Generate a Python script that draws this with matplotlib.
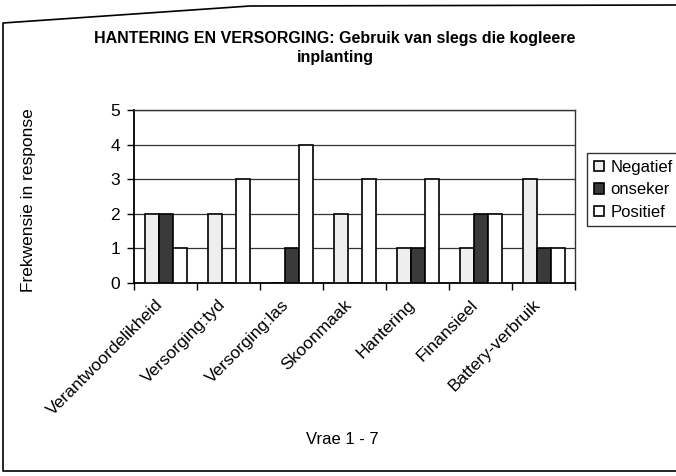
import matplotlib
matplotlib.use("Agg")
import matplotlib.pyplot as plt
import numpy as np
from matplotlib.lines import Line2D

plt.rcParams['font.family'] = ['Liberation Sans', 'DejaVu Sans']

categories = ["Verantwoordelikheid", "Versorging:tyd", "Versorging:las", "Skoonmaak",
              "Hantering", "Finansieel", "Battery-verbruik"]
negatief = [2, 2, 0, 2, 1, 1, 3]
onseker = [2, 0, 1, 0, 1, 2, 1]
positief = [1, 3, 4, 3, 3, 2, 1]
series_names = ["Negatief", "onseker", "Positief"]
yticks = [0, 1, 2, 3, 4, 5]

W, H = 676, 476
fig = plt.figure(figsize=(W / 100, H / 100), dpi=100)
fig.patch.set_facecolor('white')

ax = fig.add_axes([134 / W, 1 - 283 / H, (575 - 134) / W, (283 - 110) / H])

x = np.arange(len(categories))
bw = 1 / 4.5
colors = ['#eeeeee', '#3a3a3a', 'white']
for i, (vals, c, name) in enumerate(zip([negatief, onseker, positief], colors, series_names)):
    ax.bar(x + (i - 1) * bw, vals, width=bw, color=c, edgecolor='black',
           linewidth=1.2, label=name, zorder=3)

ax.set_xlim(-0.5, len(categories) - 0.5)
ax.set_ylim(0, 5)
ax.set_yticks(yticks)
ax.set_yticklabels([str(v) for v in yticks], fontsize=12.5)
ax.yaxis.grid(True, color='#333333', linewidth=0.9, zorder=0)
ax.set_axisbelow(True)

ax.set_xticks(x)
ax.set_xticklabels(categories, fontsize=12.5, rotation=45, ha='right', va='top',
                   rotation_mode='default')
ax.tick_params(axis='x', which='major', length=0, pad=10)
ax.set_xticks(np.arange(len(categories) + 1) - 0.5, minor=True)
ax.tick_params(axis='x', which='minor', length=5, width=1, direction='out')
ax.tick_params(axis='y', length=5, width=1, direction='out', pad=5)

for s in ['left', 'bottom']:
    ax.spines[s].set_linewidth(1.3)
    ax.spines[s].set_color('black')
for s in ['top', 'right']:
    ax.spines[s].set_linewidth(1.0)
    ax.spines[s].set_color('#333333')

leg = ax.legend(loc='upper left', bbox_to_anchor=(587 / W, 1 - 153 / H),
                bbox_transform=fig.transFigure, fontsize=12, frameon=True,
                fancybox=False, edgecolor='black', handlelength=0.6, handleheight=0.6,
                handletextpad=0.4, labelspacing=0.45, borderpad=0.4, borderaxespad=0)
leg.get_frame().set_linewidth(1.0)

fig.text(335 / W, 1 - 48 / H,
         "HANTERING EN VERSORGING: Gebruik van slegs die kogleere\ninplanting",
         ha='center', va='center', fontsize=11.5, fontweight='bold', linespacing=1.35)
fig.text(28 / W, 1 - 200 / H, "Frekwensie in response", rotation=90,
         ha='center', va='center', fontsize=12.5)
fig.text(342 / W, 1 - 439 / H, "Vrae 1 - 7", ha='center', va='center', fontsize=12)

# outer chart border
border_x = [676, 250, 3, 3, 676]
border_y = [5, 6, 23, 471, 471]
fig.add_artist(Line2D([bx / W for bx in border_x], [1 - by / H for by in border_y],
                      transform=fig.transFigure, color='black', linewidth=1.2))

fig.savefig("out.png", dpi=100)
